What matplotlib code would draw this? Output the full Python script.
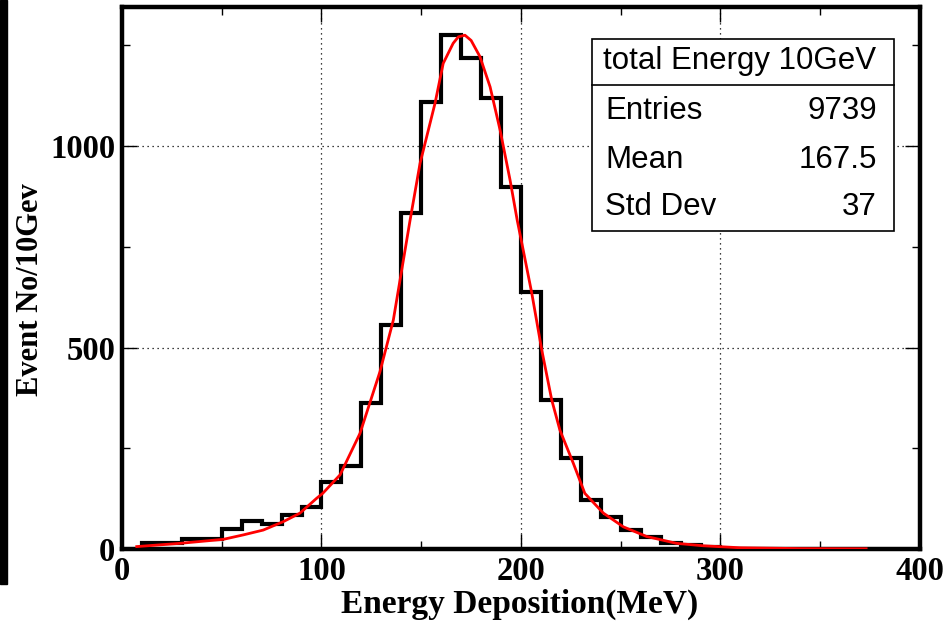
import matplotlib
matplotlib.use("Agg")
import matplotlib.pyplot as plt
from matplotlib.ticker import MultipleLocator
from matplotlib.patches import Rectangle

# ---- data ----
bin_edges = [10, 20, 30, 40, 50, 60, 70, 80, 90, 100, 110, 120, 130, 140, 150,
             160, 170, 180, 190, 200, 210, 220, 230, 240, 250, 260, 270, 280,
             290, 300]
counts = [15, 15, 24, 24, 49, 70, 61, 84, 103, 167, 207, 363, 556, 834, 1110,
          1275, 1218, 1120, 899, 638, 370, 225, 122, 80, 47, 31, 16, 10, 6]

fit_x = [7.4, 29, 50.8, 60.8, 70.8, 80.9, 89.2, 97.6, 100.6, 109.3, 119.3,
         129.3, 136, 144.4, 149.4, 156.9, 161, 166, 168.6, 171.9, 175, 179.4,
         184.5, 189.5, 194.5, 198.1, 201.1, 205.4, 210.4, 215.4, 219.5, 226.2,
         232, 241.3, 251.3, 263, 278, 291.4, 310, 340, 373]
fit_y = [6, 14, 24, 35, 47, 68, 89, 126, 138, 184, 287,
         440, 568, 816, 957, 1106, 1205, 1255, 1271, 1275, 1262, 1222,
         1147, 1040, 916, 816, 742, 635, 494, 370, 295, 213,
         138, 89, 55, 31, 14, 8, 3, 1, 0.5]

stats_title = "total Energy 10GeV"
stats_labels = ["Entries", "Mean", "Std Dev"]
stats_values = ["9739", "167.5", "37"]

x_label = "Energy Deposition(MeV)"
y_label = "Event No/10Gev"

W, H = 953, 621
fig = plt.figure(figsize=(W / 100, H / 100), dpi=100)
fig.patch.set_facecolor("white")

# black strip on the left edge
fig.patches.append(Rectangle((0, 1 - 584 / H), 7 / W, 584 / H,
                             transform=fig.transFigure, color="black",
                             zorder=0))

ax = fig.add_axes([122 / W, 1 - 549 / H, (920 - 122) / W, (549 - 7) / H])
ax.set_xlim(0, 400)
ax.set_ylim(0, 1345)

ax.grid(True, which="major", color="black", linestyle=(0, (1, 3)),
        linewidth=0.9)
ax.set_axisbelow(True)

ax.stairs(counts, bin_edges, color="black", linewidth=3.0, baseline=0,
          zorder=3)
ax.plot(fit_x, fit_y, color="red", linewidth=2.0, zorder=4)

ax.xaxis.set_major_locator(MultipleLocator(100))
ax.xaxis.set_minor_locator(MultipleLocator(50))
ax.yaxis.set_major_locator(MultipleLocator(500))
ax.yaxis.set_minor_locator(MultipleLocator(250))
ax.tick_params(which="both", direction="in", top=True, right=True,
               color="black", width=1.0)
ax.tick_params(which="major", length=11)
ax.tick_params(which="minor", length=5.5)

for sp in ax.spines.values():
    sp.set_linewidth(3.2)
    sp.set_color("black")

for lab in ax.get_xticklabels() + ax.get_yticklabels():
    lab.set_fontfamily("Liberation Serif")
    lab.set_fontweight("bold")
    lab.set_fontsize(23.5)
ax.tick_params(axis="x", pad=5)
ax.tick_params(axis="y", pad=5)

fig.text(520 / W, 1 - 604 / H, x_label, ha="center", va="center",
         fontfamily="Liberation Serif", fontweight="bold", fontsize=24)
fig.text(31 / W, 1 - 290 / H, y_label, ha="center", va="center",
         rotation=90, fontfamily="Liberation Serif", fontweight="bold",
         fontsize=22)

# stats box
bx0, bx1, by0, bdiv, by1 = 592, 894, 39, 85, 231
fig.patches.append(Rectangle((bx0 / W, 1 - by1 / H), (bx1 - bx0) / W,
                             (by1 - by0) / H, transform=fig.transFigure,
                             facecolor="white", edgecolor="black",
                             linewidth=1.2, zorder=5))
fig.add_artist(plt.Line2D([bx0 / W, bx1 / W], [1 - bdiv / H, 1 - bdiv / H],
                          transform=fig.transFigure, color="black",
                          linewidth=1.2, zorder=6))
sfont = dict(fontfamily="Liberation Sans", fontsize=22.5, zorder=7)
fig.text(740 / W, 1 - 61 / H, stats_title, ha="center",
         va="center", **sfont)
row_y = [111, 160, 207]
for lab, val, yy in zip(stats_labels, stats_values, row_y):
    fig.text(605 / W, 1 - yy / H, lab, ha="left", va="center", **sfont)
    fig.text(877 / W, 1 - yy / H, val, ha="right", va="center", **sfont)

fig.savefig("out.png", dpi=100, facecolor="white")
